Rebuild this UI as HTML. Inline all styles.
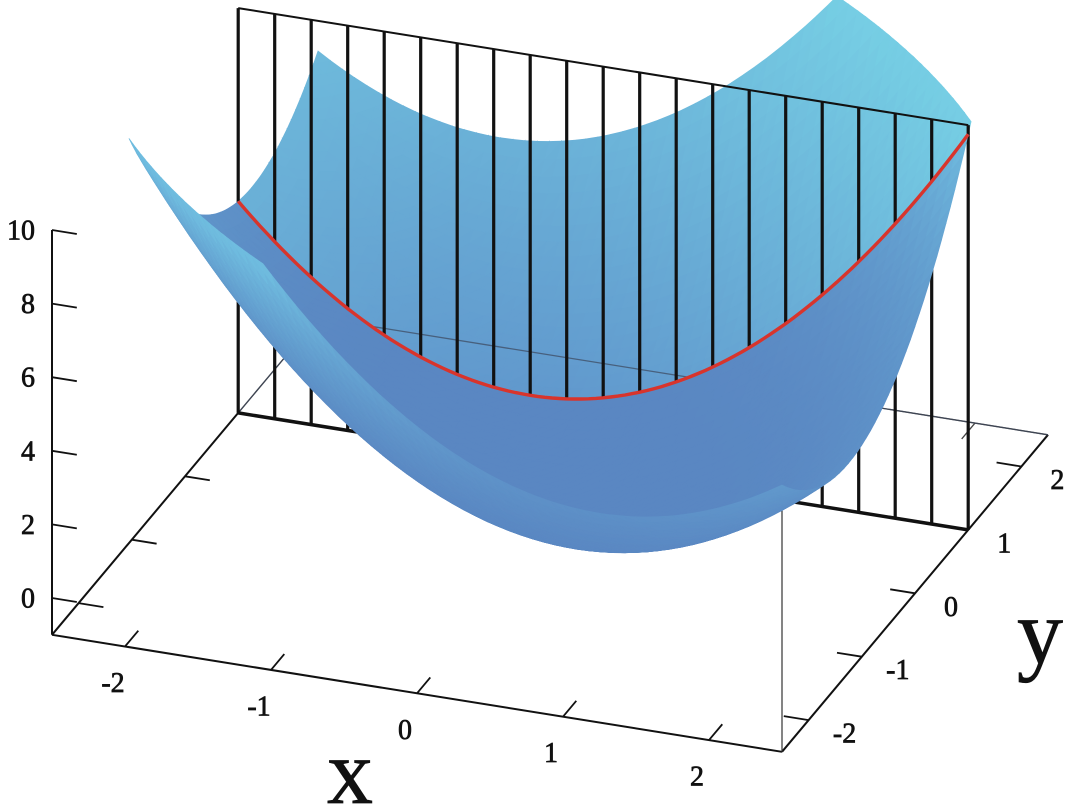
<!DOCTYPE html>
<html><head><meta charset="utf-8"><style>
html,body{margin:0;padding:0;background:#fff;}
svg{display:block;}
text{font-family:"Liberation Serif",serif;fill:#111;}
</style></head><body>
<svg id="chart" width="1065" height="808" viewBox="0 0 1065 808" xmlns="http://www.w3.org/2000/svg">
<g id="floor"></g>
<g id="back"></g>
<g id="seeth"></g>
<g id="plane"></g>
<g id="front"></g>
<g id="curve"></g>
<g id="labels"></g>
</svg>
<script>
// z = a*x^2 + b*x*y + c*y^2
const coef = [1, 1, 1];
const xRange = [-2.5, 2.5];
const yRange = [-2.5, 2.5];
const zRange = [-1, 10];
const planeY = [1];
const xTicks = [-2, -1, 0, 1, 2];
const yTicks = [-2, -1, 0, 1, 2];
const zTicks = [0, 2, 4, 6, 8, 10];
const xTickLabels = ["-2", "-1", "0", "1", "2"];
const yTickLabels = ["-2", "-1", "0", "1", "2"];
const zTickLabels = ["0", "2", "4", "6", "8", "10"];

const NS = "http://www.w3.org/2000/svg";
function P(x, y, z) { return [550 + 146 * x + 53.2 * y, 498 + 23.4 * x - 63.4 * y - 36.8 * z]; }
function f(x, y) { return coef[0] * x * x + coef[1] * x * y + coef[2] * y * y; }
function far(x, y, z) { return -x + 2.744 * y - 5.36 * z; }
function el(tag, parent, attrs) { const e = document.createElementNS(NS, tag); for (const k in attrs) e.setAttribute(k, attrs[k]); parent.appendChild(e); return e; }
function line(parent, a, b, w, col, name) {
  const p = P(...a), q = P(...b);
  const e = el('line', parent, { x1: p[0], y1: p[1], x2: q[0], y2: q[1], stroke: col, 'stroke-width': w, 'stroke-linecap': 'butt' });
  
  
  return e;
}
const gF = document.getElementById('floor'), gB = document.getElementById('back'), gS = document.getElementById('seeth'), gP = document.getElementById('plane'),
      gFr = document.getElementById('front'), gC = document.getElementById('curve'), gL = document.getElementById('labels');
const [x0, x1] = xRange, [y0, y1] = yRange, [z0, z1] = zRange;

// floor box
line(gF, [x0, y0, z0], [x1, y0, z0], 2, '#111', 'x-axis-front-edge');
line(gF, [x1, y0, z0], [x1, y1, z0], 2, '#111', 'y-axis-right-edge');
line(gF, [x0, y0, z0], [x0, planeY[0], z0], 2, '#111', 'y-axis-left-edge');
line(gF, [x0, planeY[0], z0], [x0, y1, z0], 1.3, '#444', 'left-back-edge');
line(gF, [x0, y1, z0], [x1, y1, z0], 1.3, '#444', 'back-edge');
line(gF, [x0, y0, z0], [x0, y0, z1], 2, '#111', 'z-axis-line');
line(gF, [x1, y0, z0], [x1, y0, z1], 1.2, '#333', 'front-right-vertical-edge');
xTicks.forEach(t => {
  line(gF, [t, y0, z0], [t, y0 + 0.25, z0], 1.8, '#111', 'x-tick');
  line(gF, [t, y1, z0], [t, y1 - 0.25, z0], 1.3, '#444', 'x-tick-back');
});
yTicks.forEach(t => {
  line(gF, [x0, t, z0], [x0 + 0.17, t, z0], 1.8, '#111', 'y-tick-left');
  line(gF, [x1, t, z0], [x1 - 0.17, t, z0], 1.8, '#111', 'y-tick-right');
});
zTicks.forEach(t => {
  line(gF, [x0, y0, t], [x0 + 0.17, y0, t], 1.8, '#111', 'z-tick');
});

// surface
function clipZ(poly) {
  const out = [];
  for (let i = 0; i < poly.length; i++) {
    const a = poly[i], b = poly[(i + 1) % poly.length];
    const ain = a[2] <= z1, bin = b[2] <= z1;
    if (ain) out.push(a);
    if (ain !== bin) {
      const t = (z1 - a[2]) / (b[2] - a[2]);
      out.push([a[0] + t * (b[0] - a[0]), a[1] + t * (b[1] - a[1]), z1]);
    }
  }
  return out;
}
const backLo = [96, 150, 204], backHi = [118, 206, 228];
const frontLo = [90, 135, 194], frontHi = [112, 190, 224];
function colorFor(z, isBack) {
  let t = Math.max(0, Math.min(1, (z - 0.5) / 9.5));
  const lo = isBack ? backLo : frontLo, hi = isBack ? backHi : frontHi;
  t = isBack ? Math.pow(t, 0.9) : Math.pow(t, 2.2);
  const c = lo.map((v, i) => Math.round(v + (hi[i] - v) * t));
  return 'rgb(' + c.join(',') + ')';
}
const N = 60;
const backTris = [], frontTris = [];
for (let i = 0; i < N; i++) {
  for (let j = 0; j < N; j++) {
    const xa = x0 + (x1 - x0) * i / N, xb = x0 + (x1 - x0) * (i + 1) / N;
    const ya = y0 + (y1 - y0) * j / N, yb = y0 + (y1 - y0) * (j + 1) / N;
    const A = [xa, ya, f(xa, ya)], B = [xb, ya, f(xb, ya)], C = [xb, yb, f(xb, yb)], D = [xa, yb, f(xa, yb)];
    const isBack = (ya + yb) / 2 >= planeY[0];
    [[A, B, C], [A, C, D]].forEach(tri => {
      const poly = clipZ(tri);
      if (poly.length < 3) return;
      let cx = 0, cy = 0, cz = 0;
      poly.forEach(p => { cx += p[0]; cy += p[1]; cz += p[2]; });
      cx /= poly.length; cy /= poly.length; cz /= poly.length;
      const item = { poly, d: far(cx, cy, cz), col: colorFor(cz, isBack) };
      (isBack ? backTris : frontTris).push(item);
    });
  }
}
function drawTris(list, g) {
  list.sort((a, b) => b.d - a.d);
  list.forEach(t => {
    const pts = t.poly.map(p => P(...p).map(v => v.toFixed(1)).join(',')).join(' ');
    const e = el('polygon', g, { points: pts, fill: t.col, stroke: t.col, 'stroke-width': 0.7 });
    
    
  });
}
drawTris(backTris, gB);

// floor back edge visible through the surface
line(gS, [x0, planeY[0], z0], [x0, y1, z0], 1.3, 'rgba(60,70,90,0.7)', 'left-back-edge-through');
line(gS, [x0, y1, z0], [x1, y1, z0], 1.3, 'rgba(60,70,90,0.7)', 'back-edge-through');

// slice plane
const py = planeY[0];
for (let k = 0; k <= 20; k++) {
  const x = x0 + (x1 - x0) * k / 20;
  line(gP, [x, py, z0], [x, py, z1], 3.2, '#111', 'plane-grid-line');
}
line(gP, [x0, py, z0], [x1, py, z0], 3.5, '#111', 'plane-bottom-edge');
line(gP, [x0, py, z1], [x1, py, z1], 2, '#111', 'plane-top-edge');

drawTris(frontTris, gFr);

// red curve on surface
const cpts = [];
for (let k = 0; k <= 100; k++) {
  const x = x0 + (x1 - x0) * k / 100;
  const z = f(x, py);
  if (z <= z1) cpts.push(P(x, py, z).map(v => v.toFixed(1)).join(','));
}
const cv = el('polyline', gC, { points: cpts.join(' '), fill: 'none', stroke: '#d8342c', 'stroke-width': 3.4, 'stroke-linejoin': 'round' });



// labels
function txt(s, x, y, size, anchor, name, bold) {
  const e = el('text', gL, { x: x, y: y, 'font-size': size, 'text-anchor': anchor, 'dominant-baseline': 'central' });
  if (bold) { e.setAttribute('stroke', '#111'); e.setAttribute('stroke-width', '0.7'); }
  e.textContent = s;
  
  
}
xTicks.forEach((t, i) => { const p = P(t, y0, z0); txt(xTickLabels[i], p[0] - 12, p[1] + 37, 28, 'middle', 'x-tick-label', true); });
yTicks.forEach((t, i) => { const p = P(x1, t, z0); txt(yTickLabels[i], p[0] + 36, p[1] + 14, 28, 'middle', 'y-tick-label', true); });
zTicks.forEach((t, i) => { const p = P(x0, y0, t); txt(zTickLabels[i], p[0] - 17, p[1] + 1, 28, 'end', 'z-tick-label', true); });
txt('x', 350, 772, 92, 'middle', 'x-axis-title', true);
txt('y', 1040, 632, 92, 'middle', 'y-axis-title', true);
</script>
</body></html>
